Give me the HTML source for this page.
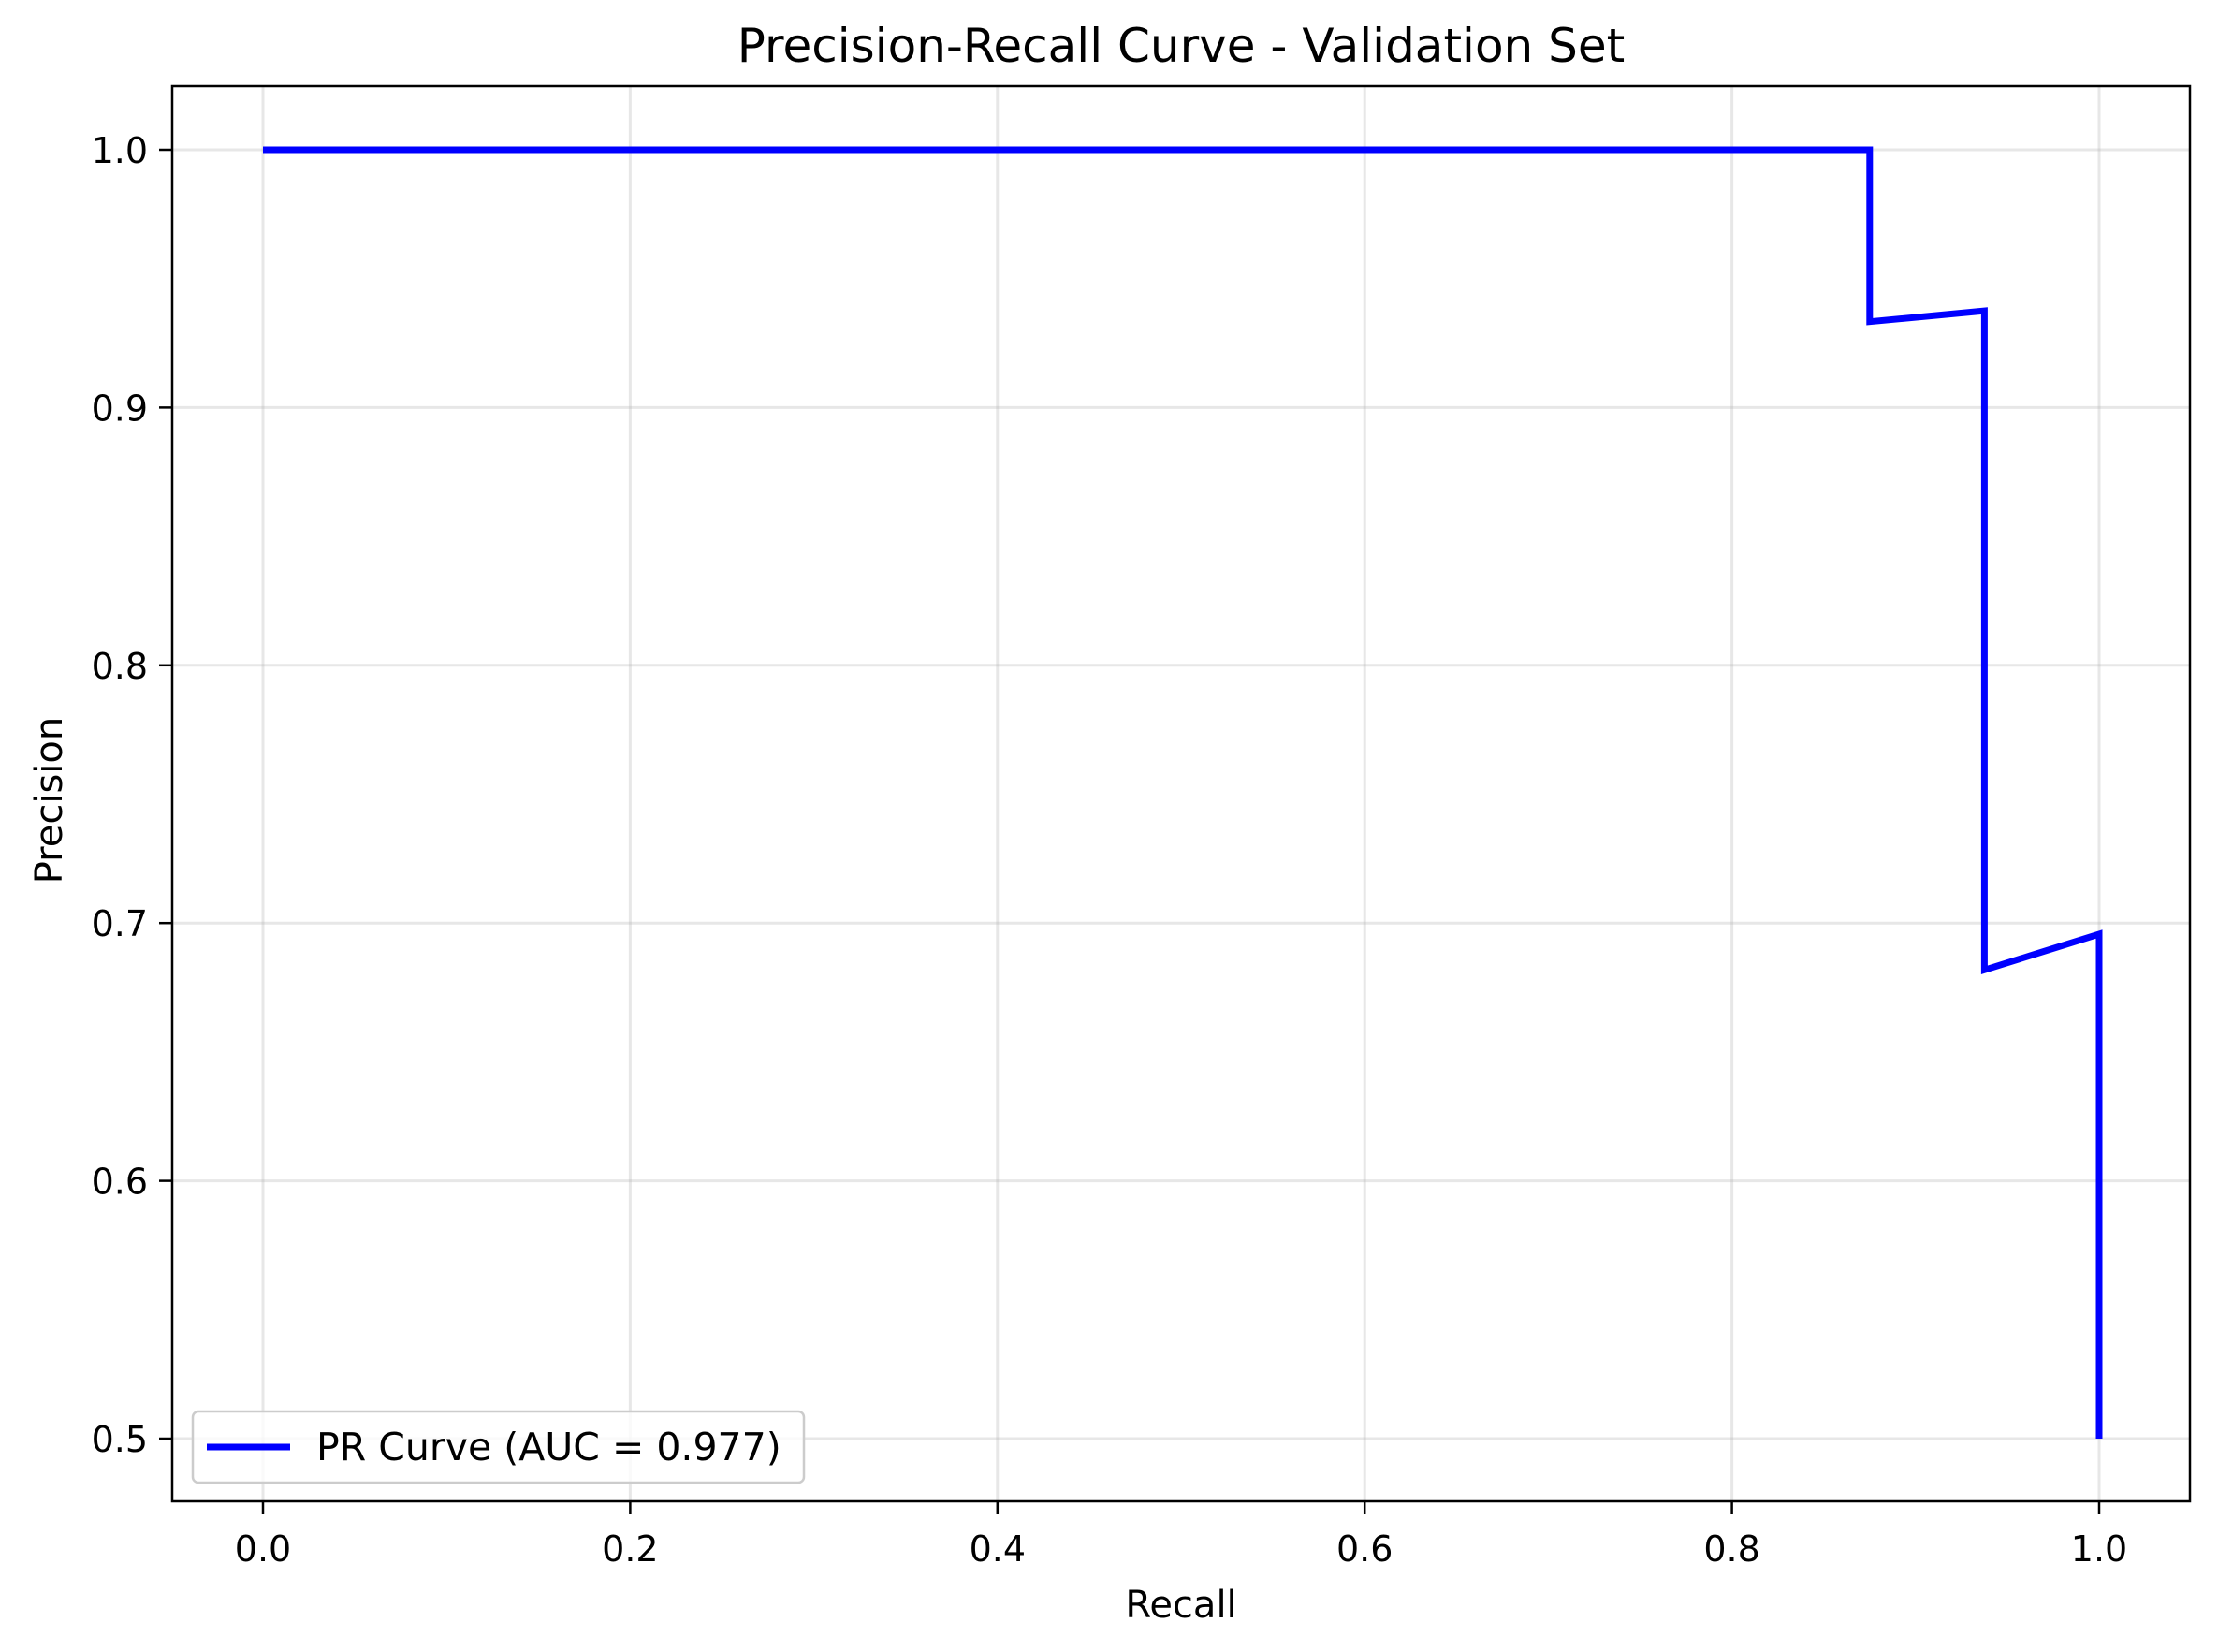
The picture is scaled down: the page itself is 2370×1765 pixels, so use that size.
<!DOCTYPE html>
<html><head><meta charset="utf-8"><style>
html,body{margin:0;padding:0;background:#fff;}
svg{display:block;font-family:"DejaVu Sans","Liberation Sans",sans-serif;}
</style></head><body>
<svg id="chart" width="2370" height="1765" viewBox="0 0 2370 1765">
<rect x="0" y="0" width="2370" height="1765" fill="#fff"/>
<g id="grid"></g>
<g id="series"></g>
<rect x="184" y="92" width="2156" height="1512" fill="none" stroke="#000" stroke-width="2.5"/>
<g id="ticks"></g>
<text x="1262" y="66" font-size="50" text-anchor="middle">Precision-Recall Curve - Validation Set</text>
<text x="1262" y="1728" font-size="40" text-anchor="middle">Recall</text>
<text x="0" y="0" font-size="40" text-anchor="middle" transform="translate(66,855) rotate(-90)">Precision</text>
<g>
<rect x="206" y="1508" width="653" height="76" rx="6" fill="#fff" fill-opacity="0.8" stroke="#ccc" stroke-width="2.5"/>
<line x1="221" y1="1546" x2="310" y2="1546" stroke="#0000ff" stroke-width="7"/>
<text x="338" y="1560" font-size="41">PR Curve (AUC = 0.977)</text>
</g>
</svg>
<script>
const recall = [0, 0.875, 0.875, 0.9375, 0.9375, 1.0, 1.0];
const precision = [1.0, 1.0, 0.9333, 0.9375, 0.6818, 0.6957, 0.5];
const xTicks = [0.0, 0.2, 0.4, 0.6, 0.8, 1.0];
const yTicks = [0.5, 0.6, 0.7, 0.8, 0.9, 1.0];

const NS = "http://www.w3.org/2000/svg";
const L = 184, R = 2340, T = 92, B = 1604;
function xs(v){ return 281 + v * (2243 - 281); }
function ys(v){ return 1537 - (v - 0.5) / 0.5 * (1537 - 160); }
function mk(tag, attrs, parent){ const e = document.createElementNS(NS, tag); for (const k in attrs) e.setAttribute(k, attrs[k]); parent.appendChild(e); return e; }
const grid = document.getElementById('grid'), ticks = document.getElementById('ticks'), series = document.getElementById('series');
xTicks.forEach(v => {
  const x = xs(v);
  const g = mk('line', {x1:x, x2:x, y1:T, y2:B, stroke:'#b0b0b0', 'stroke-opacity':0.3, 'stroke-width':3}, grid);
  
  
  const t = mk('line', {x1:x, x2:x, y1:B, y2:B+14, stroke:'#000', 'stroke-width':2.5}, ticks);
  
  
  const lb = mk('text', {x:x, y:B+64, 'font-size':38, 'text-anchor':'middle'}, ticks);
  lb.textContent = v.toFixed(1);
  
  
});
yTicks.forEach(v => {
  const y = ys(v);
  const g = mk('line', {x1:L, x2:R, y1:y, y2:y, stroke:'#b0b0b0', 'stroke-opacity':0.3, 'stroke-width':3}, grid);
  
  
  const t = mk('line', {x1:L-14, x2:L, y1:y, y2:y, stroke:'#000', 'stroke-width':2.5}, ticks);
  
  
  const lb = mk('text', {x:L-26, y:y+14, 'font-size':38, 'text-anchor':'end'}, ticks);
  lb.textContent = v.toFixed(1);
  
  
});
const pts = recall.map((r, i) => xs(r).toFixed(1) + ',' + ys(precision[i]).toFixed(1)).join(' ');
const pl = mk('polyline', {points:pts, fill:'none', stroke:'#0000ff', 'stroke-width':7, 'stroke-linejoin':'miter'}, series);


</script>
</body></html>
